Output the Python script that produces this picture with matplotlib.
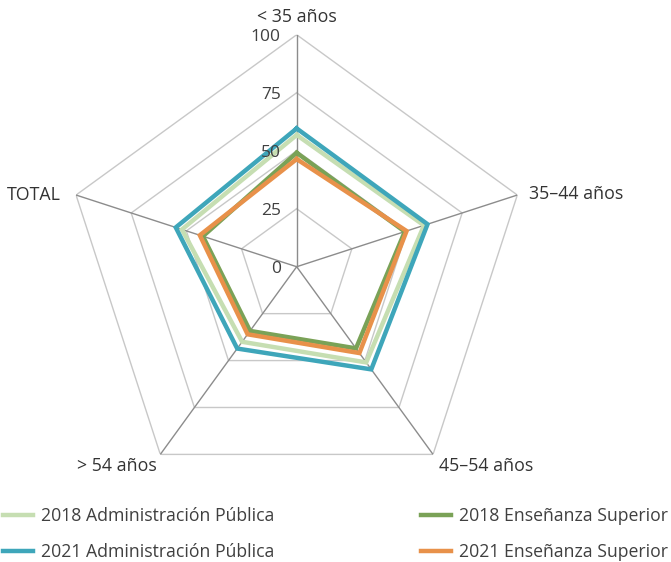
import numpy as np
import matplotlib
matplotlib.use("Agg")
import matplotlib.pyplot as plt

plt.rcParams['font.family'] = ['Open Sans', 'DejaVu Sans']

categories = ["< 35 años", "35–44 años", "45–54 años", "> 54 años", "TOTAL"]
series_names = ["2018 Administración Pública", "2021 Administración Pública",
                "2018 Enseñanza Superior", "2021 Enseñanza Superior"]
ap_2018 = [56.8, 57.7, 51.0, 40.0, 52.0]
ap_2021 = [59.6, 59.3, 54.7, 43.6, 54.8]
es_2018 = [49.1, 49.0, 43.5, 34.2, 42.5]
es_2021 = [46.4, 49.8, 46.0, 36.0, 43.9]
series_values = [ap_2018, ap_2021, es_2018, es_2021]
colors = ["#c6deb2", "#3ea6ba", "#7aa257", "#e8914a"]
rticks = [0, 25, 50, 75, 100]

fig = plt.figure(figsize=(6.71, 5.62), dpi=100)
ax = fig.add_axes([0.0964, 0.1126, 0.6915, 0.8256], projection='polar')
ax.set_theta_zero_location('N')
ax.set_theta_direction(-1)
ax.set_ylim(0, 100)
ax.grid(False)
ax.spines['polar'].set_visible(False)
ax.set_xticks([])
ax.set_yticks([])
ax.patch.set_visible(False)

n = len(categories)
angles = np.linspace(0, 2 * np.pi, n, endpoint=False)
closed = np.concatenate([angles, angles[:1]])

# pentagon grid
for r in rticks[1:]:
    ax.plot(closed, [r] * (n + 1), color="#c8c8c8", lw=1.0, zorder=1)
# spokes
for a in angles:
    ax.plot([a, a], [0, rticks[-1]], color="#8c8c8c", lw=1.0, zorder=1)

# radial tick labels
for r in rticks:
    ax.annotate(str(r), xy=(0, r), xytext=(-16, -2), textcoords='offset pixels',
                ha='right', va='center', fontsize=12.5, color="#404040", zorder=5)

# category labels
offsets = [((0, 18), 'center', 'center'),
           ((12, 1), 'left', 'center'),
           ((6, -12), 'left', 'center'),
           ((-4, -12), 'right', 'center'),
           ((-15, 0), 'right', 'center')]
for a, lab, (off, ha, va) in zip(angles, categories, offsets):
    ax.annotate(lab, xy=(a, 100), xytext=off, textcoords='offset pixels',
                ha=ha, va=va, fontsize=12.8, color="#333333", annotation_clip=False)

handles = []
for vals, name, c in zip(series_values, series_names, colors):
    v = np.concatenate([vals, vals[:1]])
    h, = ax.plot(closed, v, color=c, lw=3.2, label=name, zorder=3,
                 solid_joinstyle='miter')
    handles.append(h)

fig.legend(handles=handles, labels=series_names, ncol=2, loc='lower left',
           bbox_to_anchor=(-0.0063, -0.011), frameon=False, fontsize=12.7,
           handlelength=1.7, handletextpad=0.45, columnspacing=8.35,
           labelspacing=1.03, borderaxespad=0.0, labelcolor="#404040")

fig.savefig("out.png", dpi=100)
